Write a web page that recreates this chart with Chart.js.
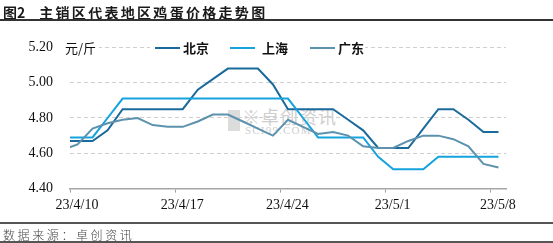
<!DOCTYPE html>
<html><head><meta charset="utf-8">
<script src="https://cdn.jsdelivr.net/npm/chart.js@4/dist/chart.umd.min.js"></script>
<style>
html,body{margin:0;padding:0;background:#fff;}
#wrap{position:relative;width:553px;height:243px;overflow:hidden;font-family:"Noto Sans CJK SC",sans-serif;}
#title{position:absolute;left:3px;top:3px;font-size:14px;font-weight:bold;color:#1a1a1a;white-space:nowrap;line-height:18px;}
#title .r{letter-spacing:2.3px;margin-left:14px;}
.hl{position:absolute;left:0;width:553px;background:#333;}
#foot{position:absolute;left:3px;top:227px;font-size:12px;letter-spacing:2.6px;color:#444;font-weight:300;line-height:16px;white-space:nowrap;}
canvas{position:absolute;left:0;top:0;}
.ov{position:absolute;background:#fff;font-size:13px;line-height:17px;color:#111;white-space:nowrap;}
.lg{position:absolute;height:2px;top:47px;}
.lt{position:absolute;top:39px;font-size:13px;font-weight:bold;line-height:17px;color:#111;}
#wm{position:absolute;left:228px;top:108px;color:#cfcfcf;}
</style></head>
<body>
<div id="wrap">
  <div id="wm">
    <div style="position:absolute;left:0;top:2px;width:12px;height:21px;background:#dcdcdc;"></div>
    <div style="position:absolute;left:14px;top:-2px;font-size:18px;line-height:20px;white-space:nowrap;letter-spacing:1px;">※卓创资讯</div>
    <div style="position:absolute;left:17px;top:16px;font-family:'Liberation Serif';font-size:11px;line-height:12px;letter-spacing:1.2px;white-space:nowrap;">SCI99.COM</div>
  </div>
  <canvas id="c" width="553" height="243"></canvas>
  <div id="title">图2<span class="r">主销区代表地区鸡蛋价格走势图</span></div>
  <div class="hl" style="top:19px;height:2px;"></div>
  <div class="ov" id="unit" style="left:62px;top:39px;padding:0 3px;">元/斤</div>
  <div class="ov" style="left:150px;top:39px;width:215px;height:17px;"></div>
  <div id="legend"></div>
  <div class="hl" style="top:222px;height:2px;background:#555;"></div>
  <div id="foot">数据来源：卓创资讯</div>
  <div class="hl" style="top:241px;height:2px;background:#555;"></div>
</div>
<script>
// Dates (first point 4/9 lies just outside the axis and is clipped)
const dates = ['2023-04-09','2023-04-10','2023-04-11','2023-04-12','2023-04-13','2023-04-14','2023-04-15','2023-04-16',
  '2023-04-17','2023-04-18','2023-04-19','2023-04-20','2023-04-21','2023-04-22','2023-04-23',
  '2023-04-24','2023-04-25','2023-04-26','2023-04-27','2023-04-28','2023-04-29','2023-04-30',
  '2023-05-01','2023-05-02','2023-05-03','2023-05-04','2023-05-05','2023-05-06','2023-05-07','2023-05-08'];
const seriesNames = ['北京','上海','广东'];
const beijing = [4.67,4.67,4.67,4.73,4.85,4.85,4.85,4.85,4.85,4.96,5.02,5.08,5.08,5.08,4.99,
  4.85,4.85,4.85,4.85,4.79,4.73,4.63,4.63,4.63,4.74,4.85,4.85,4.79,4.72,4.72];
const shanghai = [4.69,4.69,4.69,4.80,4.91,4.91,4.91,4.91,4.91,4.91,4.91,4.91,4.91,4.91,4.91,
  4.91,4.80,4.69,4.69,4.69,4.69,4.58,4.51,4.51,4.51,4.58,4.58,4.58,4.58,4.58];
const guangdong = [4.62,4.65,4.74,4.77,4.79,4.80,4.76,4.75,4.75,4.78,4.82,4.82,4.78,4.74,4.70,
  4.79,4.75,4.71,4.72,4.70,4.64,4.63,4.63,4.67,4.70,4.70,4.68,4.64,4.54,4.52];
const tickDates = ['2023-04-10','2023-04-17','2023-04-24','2023-05-01','2023-05-08'];
const tickLabels = ['23/4/10','23/4/17','23/4/24','23/5/1','23/5/8'];
const colors = ['#1b6a9c','#15a3dd','#5c92ad'];

const DAY = 86400000;
const base = Date.parse(tickDates[0]);
const dayIdx = d => Math.round((Date.parse(d) - base) / DAY);
const tickPos = tickDates.map(dayIdx);
// Excel date axis with points between tick marks: each day sits at the middle of its slot
const toPts = vals => vals.map((v, i) => ({x: dayIdx(dates[i]) + 0.5, y: v}));

// HTML legend
const legendPos = [[155, 183], [230, 262], [310, 338]];
const lg = document.getElementById('legend');
seriesNames.forEach((n, i) => {
  const l = document.createElement('div'); l.className = 'lg';
  l.style.left = legendPos[i][0] + 'px'; l.style.width = '25px'; l.style.background = colors[i];
  const t = document.createElement('div'); t.className = 'lt';
  t.style.left = legendPos[i][1] + 'px'; t.textContent = n;
  lg.appendChild(l); lg.appendChild(t);
});

const allVals = [beijing, shanghai, guangdong];
new Chart(document.getElementById('c'), {
  type: 'line',
  data: {
    datasets: seriesNames.map((n, i) => ({
      label: n, data: toPts(allVals[i]), borderColor: colors[i], backgroundColor: colors[i],
      borderWidth: 2, pointRadius: 0, tension: 0, fill: false, order: 2 - i
    }))
  },
  options: {
    responsive: false, animation: false, devicePixelRatio: 1,
    layout: {padding: {top: 47.4, right: 47, bottom: 24.4, left: 0}},
    plugins: {legend: {display: false}, tooltip: {enabled: false}},
    scales: {
      x: {
        type: 'linear', min: 0, max: 29,
        afterBuildTicks: s => { s.ticks = tickPos.map(v => ({value: v})); },
        afterFit: s => { s.height = 30; },
        grid: {drawOnChartArea: false, drawTicks: true, tickLength: 4, color: '#a0a0a0'},
        border: {display: true, color: '#a6a6a6', width: 1.5},
        ticks: {
          callback: (v, i) => tickLabels[i], autoSkip: false, maxRotation: 0,
          font: {family: 'Liberation Serif', size: 14}, color: '#111', padding: 4, labelOffset: 7
        }
      },
      y: {
        min: 4.4, max: 5.2,
        afterFit: s => { s.width = 70; },
        grid: {drawTicks: false, color: c => (c.tick && c.tick.value < 4.45) ? 'rgba(0,0,0,0)' : '#cfcfcf', lineWidth: 1},
        border: {display: false, dash: [4, 3]},
        ticks: {
          stepSize: 0.2, callback: v => Number(v).toFixed(2), padding: 17,
          font: {family: 'Liberation Serif', size: 14}, color: '#111'
        }
      }
    }
  }
});
</script>
</body></html>
